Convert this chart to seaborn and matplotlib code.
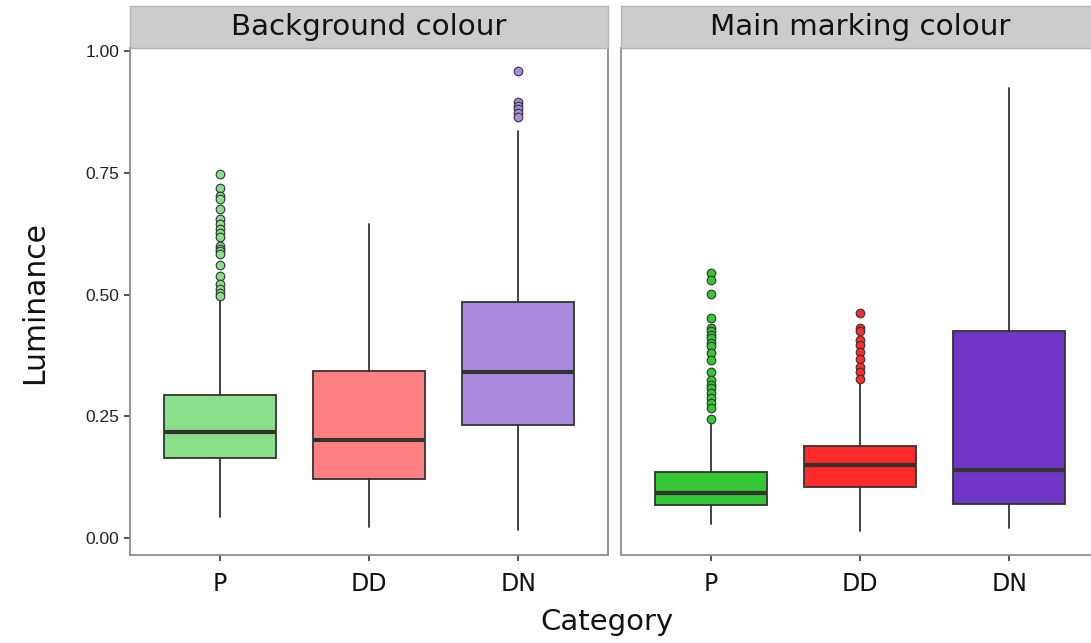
import numpy as np
import seaborn as sns
import matplotlib.pyplot as plt

categories = ["P", "DD", "DN"]
panels = ["Background colour", "Main marking colour"]

# box summaries (q1, median, q3, whisker ends, outliers)
bg_q1 = [0.165, 0.121, 0.233]
bg_med = [0.217, 0.202, 0.341]
bg_q3 = [0.294, 0.343, 0.485]
bg_lo = [0.043, 0.022, 0.016]
bg_hi = [0.492, 0.646, 0.837]
bg_fliers = [
    [0.749, 0.719, 0.703, 0.696, 0.677, 0.655, 0.646, 0.635, 0.627, 0.619,
     0.600, 0.594, 0.589, 0.584, 0.562, 0.538, 0.521, 0.512, 0.503, 0.497],
    [],
    [0.960, 0.895, 0.888, 0.881, 0.874, 0.866],
]

mk_q1 = [0.068, 0.104, 0.070]
mk_med = [0.092, 0.150, 0.140]
mk_q3 = [0.136, 0.190, 0.425]
mk_lo = [0.029, 0.015, 0.020]
mk_hi = [0.240, 0.320, 0.925]
mk_fliers = [
    [0.545, 0.531, 0.501, 0.453, 0.431, 0.425, 0.418, 0.411, 0.401, 0.394,
     0.380, 0.366, 0.342, 0.325, 0.315, 0.308, 0.298, 0.287, 0.277, 0.267, 0.244],
    [0.462, 0.431, 0.425, 0.407, 0.397, 0.383, 0.368, 0.352, 0.342, 0.327],
    [],
]

bg_colors = ["#8ae08a", "#ff8080", "#a98be0"]
mk_colors = ["#33c733", "#ff2a2a", "#6f36c6"]

yticks = [0.00, 0.25, 0.50, 0.75, 1.00]
ytick_labels = ["0.00", "0.25", "0.50", "0.75", "1.00"]

sns.set_theme(style="white")
plt.rcParams["font.family"] = ["DejaVu Sans"]

W, H = 1091, 643
fig = plt.figure(figsize=(W / 100, H / 100), dpi=100)


def make_stats(q1, med, q3, lo, hi, fl):
    out = []
    for i in range(len(categories)):
        out.append(dict(q1=q1[i], med=med[i], q3=q3[i], whislo=lo[i],
                        whishi=hi[i], fliers=fl[i], label=categories[i]))
    return out


panel_data = [
    (make_stats(bg_q1, bg_med, bg_q3, bg_lo, bg_hi, bg_fliers), bg_colors),
    (make_stats(mk_q1, mk_med, mk_q3, mk_lo, mk_hi, mk_fliers), mk_colors),
]

# right panel runs past the image edge, like in the source
lefts = [130, 621]
pw = 478
edge = "#333333"

for k, (stats, cols) in enumerate(panel_data):
    ax = fig.add_axes([lefts[k] / W, (H - 555) / H, pw / W, 507 / H])
    res = ax.bxp(stats, positions=[0, 1, 2], widths=0.75, patch_artist=True,
                 showcaps=False,
                 boxprops=dict(edgecolor=edge, linewidth=1.3),
                 medianprops=dict(color=edge, linewidth=3.0, solid_capstyle="butt"),
                 whiskerprops=dict(color=edge, linewidth=1.3),
                 flierprops=dict(marker="o", markersize=6.2,
                                 markeredgecolor=edge, markeredgewidth=0.8))
    for box, c in zip(res["boxes"], cols):
        box.set_facecolor(c)
    for fl, c in zip(res["fliers"], cols):
        fl.set_markerfacecolor(c)

    ax.set_xlim(-0.6, 2.6)
    ax.set_ylim(-0.035, 1.007)
    ax.set_facecolor("white")
    for s in ax.spines.values():
        s.set_color("#8c8c8c")
        s.set_linewidth(1.3)

    ax.set_xticks([0, 1, 2])
    ax.set_xticklabels(categories, fontsize=17, color="#111111")
    ax.tick_params(axis="x", length=4.5, width=1.2, color=edge, pad=8,
                   bottom=True)
    if k == 0:
        ax.set_yticks(yticks)
        ax.set_yticklabels(ytick_labels, fontsize=12.5, color="#222222",
                           family="Liberation Sans")
        ax.tick_params(axis="y", length=4.5, width=1.2, color=edge, pad=3,
                       left=True)
    else:
        ax.set_yticks([])

    # facet strip
    sax = fig.add_axes([lefts[k] / W, (H - 48) / H, pw / W, 42 / H])
    sax.set_facecolor("#cccccc")
    sax.set_xticks([])
    sax.set_yticks([])
    for s in sax.spines.values():
        s.set_color("#b5b5b5")
        s.set_linewidth(1.0)
    sax.text(0.5, 0.5, panels[k], transform=sax.transAxes,
             ha="center", va="center", fontsize=21.2, color="#111111")

fig.text(35 / W, 1 - 302 / H, "Luminance", rotation=90, ha="center",
         va="center", fontsize=21.5, color="#111111")
fig.text(607 / W, 1 - 622 / H, "Category", ha="center", va="center",
         fontsize=21, color="#111111")

fig.savefig("out.png", dpi=100)
